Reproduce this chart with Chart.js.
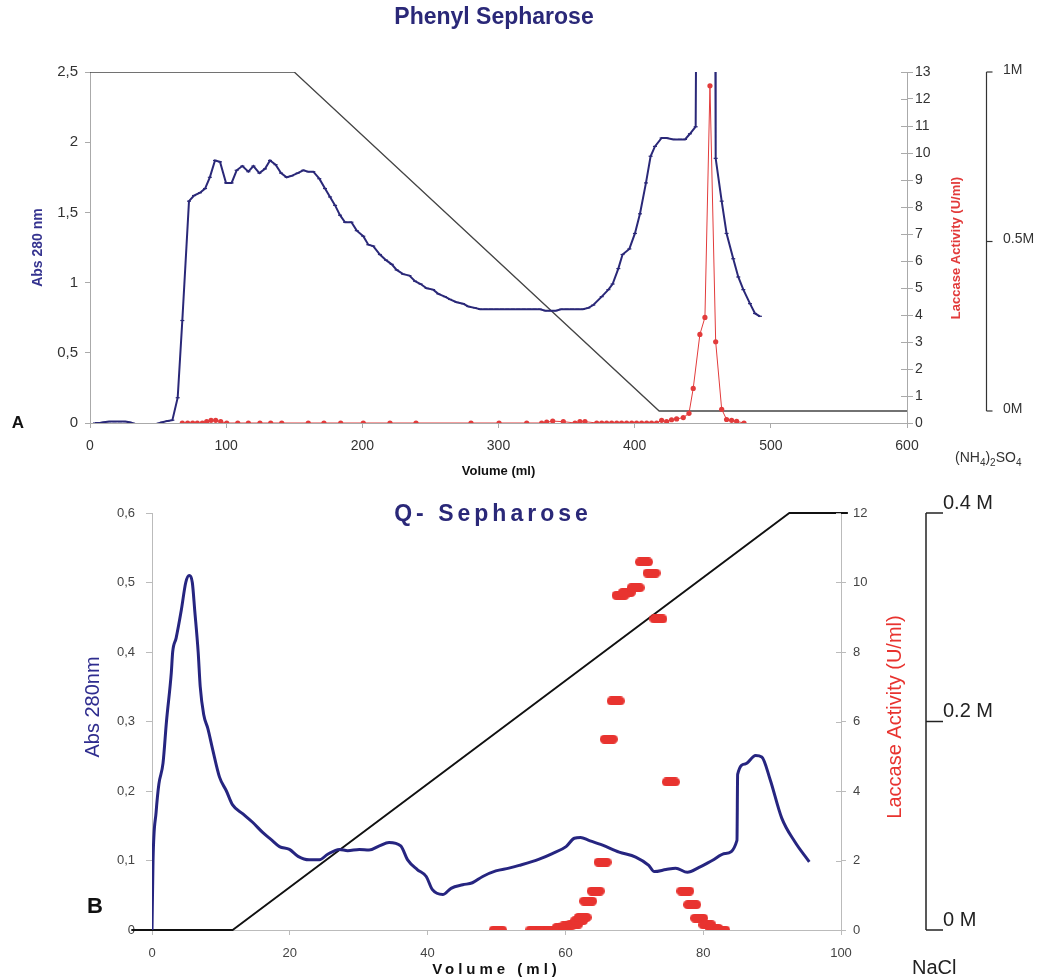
<!DOCTYPE html>
<html lang="en">
<head>
<meta charset="UTF-8" />
<title>Phenyl Sepharose / Q-Sepharose</title>
<script src="https://cdn.jsdelivr.net/npm/chart.js"></script>
<style>
  body { margin: 0; background: #fff; }
  #wrap { position: relative; width: 1042px; height: 978px; }
  canvas { position: absolute; left: 0; }
  #chartA { top: 0; }
  #chartB { top: 480px; }
</style>
</head>
<body>
<div id="wrap">
  <canvas id="chartA" width="1042" height="480"></canvas>
  <canvas id="chartB" width="1042" height="498"></canvas>
</div>
<script>
// ---- panel A: Phenyl Sepharose ----
const volA = [3.7, 7, 10, 14, 18, 22, 26, 29, 33, 37, 41, 45, 49, 53, 57, 60.5, 64.4, 67.8, 72.7, 76.4,
  80.8, 84.5, 88, 91.8, 95.5, 99.9, 104, 107.7, 111.9, 116.3, 120, 124.4, 128.5, 132.2, 136.3, 140.3, 144.4, 148, 152.5, 156.6,
  160.3, 164, 168.4, 172.6, 176.3, 180, 183.6, 187.3, 192, 195.9, 200.7, 204.4, 208, 212.9, 217.4, 221.6, 225.2, 230, 234.6, 238.7,
  242.8, 247.2, 252, 255.8, 260.6, 264.4, 269.2, 274, 277.8, 282.6, 286.4, 290.5, 294.5, 298.5, 302.5, 306.5, 310.5, 314.5, 318.5, 322.5,
  326.5, 330.5, 334.5, 338, 342, 346, 350, 354, 358, 362, 366, 369.6, 375.8, 380.7, 383.8, 388, 391.1, 396.1, 400.2, 403.9,
  408.3, 411.7, 414.9, 419.8, 423.4, 428.4, 433.3, 437, 440.6, 444.8, 445.5, 459, 459.5, 463.9, 467.5, 472.4, 476.1, 479.8, 484.7, 488.4,
  492];
const absA = [0, 0, 0.005, 0.01, 0.01, 0.01, 0.01, 0.005, -0.005, -0.01, -0.01, -0.01, -0.005, 0.005, 0.015, 0.02, 0.18, 0.73, 1.58, 1.62,
  1.64, 1.67, 1.75, 1.87, 1.86, 1.71, 1.71, 1.80, 1.83, 1.79, 1.83, 1.78, 1.81, 1.87, 1.84, 1.78, 1.75, 1.76, 1.78, 1.80,
  1.79, 1.79, 1.74, 1.67, 1.61, 1.55, 1.48, 1.43, 1.43, 1.37, 1.33, 1.27, 1.26, 1.20, 1.16, 1.13, 1.09, 1.06, 1.05, 1.01,
  0.99, 0.96, 0.95, 0.92, 0.90, 0.88, 0.86, 0.85, 0.83, 0.82, 0.81, 0.81, 0.81, 0.81, 0.81, 0.81, 0.81, 0.81, 0.81, 0.81,
  0.81, 0.81, 0.80, 0.80, 0.80, 0.81, 0.81, 0.81, 0.81, 0.81, 0.82, 0.84, 0.90, 0.95, 0.99, 1.10, 1.20, 1.24, 1.35, 1.49,
  1.71, 1.90, 1.97, 2.03, 2.03, 2.02, 2.02, 2.02, 2.06, 2.11, 3.4, 3.4, 1.885, 1.58, 1.35, 1.17, 1.04, 0.95, 0.85, 0.78,
  0.76];
const volActA = [67.8, 71.7, 75.4, 78.8, 82.5, 85.7, 88.9, 92.3, 96, 100.4, 108.5, 116.3, 124.8, 132.7, 140.8, 160.3, 171.8, 184.1, 200.7, 220.3,
  239.4, 279.8, 300.4, 320.7, 331.7, 335.4, 339.8, 347.6, 356.2, 359.8, 363.5, 372.1, 375.8, 379.4, 383.1, 386.8, 390.4, 394.1, 397.8, 401.4,
  405.1, 408.8, 412.4, 416.1, 419.8, 423.5, 427.1, 430.8, 435.7, 439.9, 443, 447.9, 451.6, 455.3, 459.5, 463.9, 467.5, 471.2, 474.9, 480.3];
const actA = [0, 0, 0, 0, 0, 0.05, 0.1, 0.1, 0.05, 0, 0, 0, 0, 0, 0, 0, 0, 0, 0, 0,
  0, 0, 0, 0, 0, 0.03, 0.07, 0.05, 0, 0.05, 0.05, 0, 0, 0, 0, 0, 0, 0, 0, 0,
  0, 0, 0, 0, 0.1, 0.05, 0.12, 0.15, 0.2, 0.36, 1.28, 3.28, 3.91, 12.49, 3.01, 0.51, 0.13, 0.1, 0.06, 0];
const gradVolA = [0, 150, 418, 600];
const saltA = [1, 1, 0, 0];
const saltTicksA = [0, 0.5, 1];
const saltLabelsA = ['0M', '0.5M', '1M'];

// ---- panel B: Q-Sepharose ----
const volB = [0, 0.15, 0.6, 1.0, 1.6, 2.1, 2.8, 3.0, 3.5, 4.25, 4.9, 5.4, 5.85, 6.2, 6.7, 7.0, 7.5, 8.1, 8.8, 9.8,
  10.8, 11.7, 13.2, 14.6, 16.1, 17.3, 18.5, 19.95, 21.2, 22.8, 24.3, 25.5, 27.2, 28.4, 30.1, 31.5, 33, 34.4, 36.1, 37.1,
  38.5, 39.8, 40.7, 42.2, 43.4, 45.1, 46.5, 48, 49.9, 51.8, 53.3, 56.2, 58.1, 60.1, 61.3, 62.2, 63.4, 65.4, 67.8, 70.2,
  72.1, 72.9, 74.6, 76, 77.7, 79.4, 81.3, 83.2, 84.9, 85, 86.1, 87.6, 88.5, 89.7, 91.4, 93.3, 95.4];
const absB = [0, 0.10, 0.17, 0.21, 0.24, 0.30, 0.37, 0.40, 0.42, 0.46, 0.50, 0.51, 0.50, 0.46, 0.40, 0.35, 0.31, 0.29, 0.26, 0.22,
  0.20, 0.18, 0.167, 0.155, 0.14, 0.13, 0.12, 0.116, 0.106, 0.101, 0.101, 0.109, 0.116, 0.114, 0.116, 0.115, 0.121, 0.126, 0.121, 0.101,
  0.087, 0.077, 0.058, 0.051, 0.060, 0.065, 0.068, 0.077, 0.085, 0.089, 0.093, 0.102, 0.110, 0.120, 0.132, 0.133, 0.129, 0.122, 0.112, 0.105,
  0.093, 0.084, 0.087, 0.089, 0.083, 0.090, 0.100, 0.110, 0.129, 0.224, 0.239, 0.251, 0.249, 0.217, 0.161, 0.127, 0.098];
const volActB = [50.2, 55.5, 56.9, 58.1, 59.3, 60.3, 61.3, 62, 62.5, 63.3, 64.4, 65.4, 66.3, 67.3, 68, 68.9, 70.2, 71.4, 72.5, 73.5,
  75.3, 77.4, 78.4, 79.4, 80.6, 81.6, 82.6];
const actB = [0, 0, 0, 0, 0.07, 0.12, 0.17, 0.27, 0.36, 0.83, 1.12, 1.95, 5.49, 6.59, 9.63, 9.71, 9.85, 10.59, 10.27, 8.95,
  4.26, 1.12, 0.73, 0.34, 0.15, 0.05, 0];
const gradVolB = [-3, 11.7, 92.5, 101];
const saltB = [0, 0, 0.4, 0.4];
const saltTicksB = [0, 0.2, 0.4];
const saltLabelsB = ['0 M', '0.2 M', '0.4 M'];

const FONT = "'Liberation Sans', Arial, sans-serif";
const NARROW = "'Liberation Sans Narrow', 'Liberation Sans', Arial, sans-serif";
const navy = '#2a2878';
const redA = '#e23b3b';
const redB = '#e8332f';
Chart.defaults.font.family = FONT;

const pts = (xs, ys) => xs.map((x, i) => ({ x: x, y: ys[i] }));
const comma = v => v === 0 ? '0' : String(+v.toFixed(1)).replace('.', ',');

// pill shaped marker used for the Q-Sepharose activity points
function pillMarker(w, h, color) {
  const c = document.createElement('canvas');
  c.width = w; c.height = h;
  const g = c.getContext('2d');
  const r = h / 2;
  g.fillStyle = color;
  g.beginPath();
  g.arc(r, r, r, Math.PI / 2, Math.PI * 1.5);
  g.lineTo(w - r, 0);
  g.arc(w - r, r, r, -Math.PI / 2, Math.PI / 2);
  g.closePath();
  g.fill();
  return c;
}

function innerTicks(ctx, scale, x, len, color) {
  ctx.strokeStyle = color; ctx.lineWidth = 1;
  scale.ticks.forEach(t => {
    const y = Math.round(scale.getPixelForValue(t.value)) + 0.5;
    ctx.beginPath(); ctx.moveTo(x - len, y); ctx.lineTo(x, y); ctx.stroke();
  });
}

function vText(ctx, text, x, y, font, color) {
  ctx.save();
  ctx.translate(x, y); ctx.rotate(-Math.PI / 2);
  ctx.font = font; ctx.fillStyle = color;
  ctx.textAlign = 'center'; ctx.textBaseline = 'middle';
  ctx.fillText(text, 0, 0);
  ctx.restore();
}

const extrasA = {
  id: 'extrasA',
  afterDraw(chart) {
    const { ctx, chartArea: ca, scales } = chart;
    ctx.save();
    ctx.textAlign = 'center'; ctx.textBaseline = 'middle';
    ctx.fillStyle = navy; ctx.font = `bold 23px ${FONT}`;
    ctx.fillText('Phenyl Sepharose', 494, 18);
    ctx.fillStyle = '#111'; ctx.font = `bold 17px ${FONT}`;
    ctx.fillText('A', 18, 423);
    innerTicks(ctx, scales.y2, ca.right, 6, '#aaa');
    vText(ctx, 'Laccase Activity (U/ml)', 956, 248, `bold 13px ${FONT}`, redA);

    // (NH4)2SO4 bracket axis
    const y3 = scales.y3, bx = 986.5;
    ctx.strokeStyle = '#333'; ctx.lineWidth = 1.2;
    ctx.beginPath(); ctx.moveTo(bx, y3.getPixelForValue(1)); ctx.lineTo(bx, y3.getPixelForValue(0)); ctx.stroke();
    ctx.fillStyle = '#333'; ctx.font = `14px ${FONT}`; ctx.textAlign = 'left';
    saltTicksA.forEach((v, i) => {
      const y = y3.getPixelForValue(v);
      ctx.beginPath(); ctx.moveTo(bx, y); ctx.lineTo(bx + 6, y); ctx.stroke();
      ctx.fillText(saltLabelsA[i], 1003, y - 2);
    });
    let x = 955;
    ctx.textBaseline = 'alphabetic';
    [['(NH', 0], ['4', 1], [')', 0], ['2', 1], ['SO', 0], ['4', 1]].forEach(([s, sub]) => {
      ctx.font = sub ? `10px ${FONT}` : `14px ${FONT}`;
      ctx.fillText(s, x, sub ? 466 : 462);
      x += ctx.measureText(s).width;
    });
    ctx.restore();
  }
};

const extrasB = {
  id: 'extrasB',
  afterDraw(chart) {
    const { ctx, chartArea: ca, scales } = chart;
    ctx.save();
    ctx.textAlign = 'center'; ctx.textBaseline = 'middle';
    ctx.fillStyle = navy; ctx.font = `bold 23px ${FONT}`;
    ctx.letterSpacing = '4px';
    ctx.fillText('Q- Sepharose', 493, 35);
    ctx.fillStyle = '#111'; ctx.font = `bold 15px ${FONT}`;
    ctx.fillText('Volume (ml)', (ca.left + ca.right) / 2, 490);
    ctx.letterSpacing = '0px';
    ctx.font = `bold 22px ${FONT}`;
    ctx.fillText('B', 95, 427);
    vText(ctx, 'Abs 280nm', 93, 227, `20px ${NARROW}`, '#2e2c8e');
    vText(ctx, 'Laccase Activity (U/ml)', 895, 237, `20px ${NARROW}`, redB);
    innerTicks(ctx, scales.y2, ca.right, 5, '#bbb');

    // NaCl bracket axis
    const y3 = scales.y3, bx = 926;
    ctx.strokeStyle = '#222'; ctx.lineWidth = 1.5;
    ctx.beginPath(); ctx.moveTo(bx, y3.getPixelForValue(0.4)); ctx.lineTo(bx, y3.getPixelForValue(0)); ctx.stroke();
    ctx.fillStyle = '#222'; ctx.textAlign = 'left';
    saltTicksB.forEach((v, i) => {
      const y = y3.getPixelForValue(v);
      ctx.beginPath(); ctx.moveTo(bx, y); ctx.lineTo(bx + 17, y); ctx.stroke();
      ctx.font = `20px ${FONT}`;
      ctx.fillText(saltLabelsB[i], bx + 17, y - 10);
    });
    ctx.fillText('NaCl', 912, 488);
    ctx.restore();
  }
};

new Chart(document.getElementById('chartA'), {
  type: 'line',
  data: {
    datasets: [
      { label: 'Laccase', data: pts(volActA, actA), yAxisID: 'y2', borderColor: redA, backgroundColor: redA,
        borderWidth: 1, pointRadius: 2.6, pointBorderWidth: 0, order: 0 },
      { label: 'Abs 280', data: pts(volA, absA), yAxisID: 'y', borderColor: navy, backgroundColor: navy,
        borderWidth: 2, pointStyle: 'line', pointRadius: 2, pointBorderWidth: 1.2, order: 1 },
      { label: '(NH4)2SO4', data: pts(gradVolA, saltA), yAxisID: 'y3', borderColor: '#444',
        borderWidth: 1.3, pointRadius: 0, order: 2 }
    ]
  },
  options: {
    responsive: false, animation: false,
    layout: { padding: { top: 72, left: 0, right: 95, bottom: 0 } },
    plugins: { legend: { display: false }, tooltip: { enabled: false } },
    scales: {
      x: {
        type: 'linear', min: 0, max: 600,
        ticks: { stepSize: 100, color: '#333', font: { size: 14 }, padding: 10 },
        grid: { drawOnChartArea: false, tickLength: 5, color: '#aaa' },
        border: { color: '#aaa' },
        title: { display: true, text: 'Volume (ml)', color: '#111', font: { size: 13, weight: 'bold' }, padding: { bottom: 1, top: 0 } },
        afterFit: s => { s.height = 57; }
      },
      y: {
        position: 'left', min: 0, max: 2.5,
        ticks: { stepSize: 0.5, color: '#333', font: { size: 15 }, padding: 7, callback: comma },
        grid: { drawOnChartArea: false, tickLength: 5, color: '#aaa' },
        border: { color: '#aaa' },
        title: { display: true, text: 'Abs 280 nm', color: '#35338f', font: { size: 14, weight: 'bold' }, padding: { top: 30, bottom: 0 } },
        afterFit: s => { s.width = 90; }
      },
      y2: {
        position: 'right', min: 0, max: 13,
        ticks: { stepSize: 1, color: '#333', font: { size: 14 }, padding: 2 },
        grid: { drawOnChartArea: false, tickLength: 6, color: '#aaa' },
        border: { color: '#aaa' },
        afterFit: s => { s.width = 40; }
      },
      y3: { display: false, min: -0.0354, max: 1 }
    }
  },
  plugins: [extrasA]
});

new Chart(document.getElementById('chartB'), {
  type: 'line',
  data: {
    datasets: [
      { label: 'Laccase', data: pts(volActB, actB), yAxisID: 'y2', showLine: false,
        pointStyle: pillMarker(18, 9, redB), order: 0 },
      { label: 'Abs 280', data: pts(volB, absB), yAxisID: 'y', borderColor: '#262580',
        borderWidth: 3, pointRadius: 0, cubicInterpolationMode: 'monotone', order: 1 },
      { label: 'NaCl', data: pts(gradVolB, saltB), yAxisID: 'y3', borderColor: '#111',
        borderWidth: 1.8, pointRadius: 0, clip: false, order: 2 }
    ]
  },
  options: {
    responsive: false, animation: false,
    layout: { padding: { top: 33, left: 0, right: 156, bottom: 0 } },
    plugins: { legend: { display: false }, tooltip: { enabled: false } },
    scales: {
      x: {
        type: 'linear', min: 0, max: 100,
        ticks: { stepSize: 20, color: '#444', font: { size: 13 }, padding: 11 },
        grid: { drawOnChartArea: false, tickLength: 5, color: '#bbb' },
        border: { color: '#bbb' },
        afterFit: s => { s.height = 48; }
      },
      y: {
        position: 'left', min: 0, max: 0.6,
        ticks: { stepSize: 0.1, color: '#444', font: { size: 13 }, padding: 11, callback: comma },
        grid: { drawOnChartArea: false, tickLength: 6, color: '#bbb' },
        border: { color: '#bbb' },
        afterFit: s => { s.width = 152; }
      },
      y2: {
        position: 'right', min: 0, max: 12,
        ticks: { stepSize: 2, color: '#444', font: { size: 13 }, padding: 7 },
        grid: { drawOnChartArea: false, tickLength: 5, color: '#bbb' },
        border: { color: '#bbb' },
        afterFit: s => { s.width = 45; }
      },
      y3: { display: false, min: 0, max: 0.4 }
    }
  },
  plugins: [extrasB]
});
</script>
</body>
</html>
